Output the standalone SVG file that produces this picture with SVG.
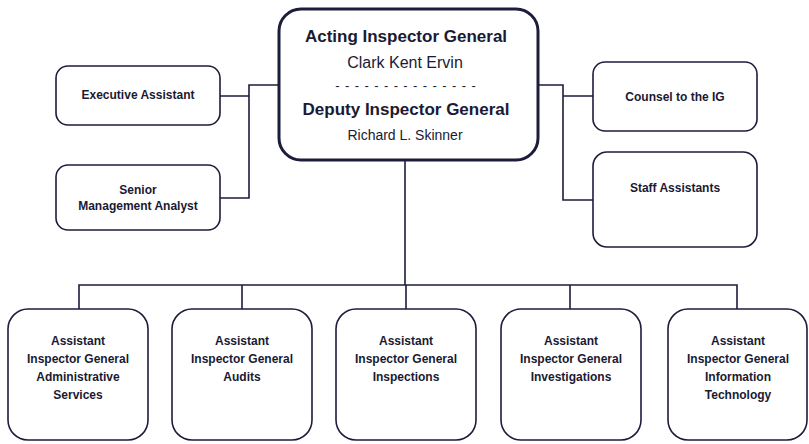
<svg xmlns="http://www.w3.org/2000/svg" width="809" height="444" viewBox="0 0 809 444">
<style>
.box{fill:#fff;stroke:#1c1c3c;stroke-width:1.6}
.main{fill:#fff;stroke:#1c1c3c;stroke-width:3}
.ln{fill:none;stroke:#1c1c3c;stroke-width:1.6}
text{font-family:"Liberation Sans",Arial,sans-serif;fill:#1a1a33;text-anchor:middle}
.b{font-weight:bold;font-size:12px}
.t{font-weight:bold;font-size:17px}
.n{font-size:16px}
.s{font-size:14px}
.d{font-size:13px;letter-spacing:0.9px}
</style>
<rect width="809" height="444" fill="#fff"/>
<g id="connectors">
<path class="ln" d="M278,85 H249 V198 H220 M249,96 H220"/>
<path class="ln" d="M538,85 H563 V200 H593 M563,96 H593"/>
<path class="ln" d="M405,160 V285 M79,309 V285 H737 V309 M242,285 V309 M406,285 V309 M570,285 V309"/>
</g>
<g id="ig">
<rect class="main" x="279" y="9" width="259" height="151" rx="22"/>
<text class="t" x="406" y="42">Acting Inspector General</text>
<text class="n" x="405" y="68">Clark Kent Ervin</text>
<text class="d" x="406" y="90">- - - - - - - - - - - - - - -</text>
<text class="t" x="406" y="115">Deputy Inspector General</text>
<text class="s" x="405" y="140">Richard L. Skinner</text>
</g>
<g id="exec">
<rect class="box" x="56" y="66" width="164" height="59" rx="12"/>
<text class="b" x="138" y="99">Executive Assistant</text>
</g>
<g id="sma">
<rect class="box" x="56" y="165" width="164" height="65" rx="12"/>
<text class="b" x="138" y="194">Senior</text>
<text class="b" x="138" y="210">Management Analyst</text>
</g>
<g id="counsel">
<rect class="box" x="593" y="62" width="164" height="69" rx="12"/>
<text class="b" x="675" y="101">Counsel to the IG</text>
</g>
<g id="staff">
<rect class="box" x="593" y="152" width="164" height="95" rx="14"/>
<text class="b" x="675" y="192">Staff Assistants</text>
</g>
<g id="admin">
<rect class="box" x="8" y="309" width="140" height="131" rx="20"/>
<text class="b" x="78" y="345">Assistant</text>
<text class="b" x="78" y="363">Inspector General</text>
<text class="b" x="78" y="381">Administrative</text>
<text class="b" x="78" y="399">Services</text>
</g>
<g id="audits">
<rect class="box" x="172" y="309" width="140" height="131" rx="20"/>
<text class="b" x="242" y="345">Assistant</text>
<text class="b" x="242" y="363">Inspector General</text>
<text class="b" x="242" y="381">Audits</text>
</g>
<g id="inspections">
<rect class="box" x="336" y="309" width="140" height="131" rx="20"/>
<text class="b" x="406" y="345">Assistant</text>
<text class="b" x="406" y="363">Inspector General</text>
<text class="b" x="406" y="381">Inspections</text>
</g>
<g id="investigations">
<rect class="box" x="501" y="309" width="140" height="131" rx="20"/>
<text class="b" x="571" y="345">Assistant</text>
<text class="b" x="571" y="363">Inspector General</text>
<text class="b" x="571" y="381">Investigations</text>
</g>
<g id="it">
<rect class="box" x="668" y="309" width="139" height="131" rx="20"/>
<text class="b" x="738" y="345">Assistant</text>
<text class="b" x="738" y="363">Inspector General</text>
<text class="b" x="738" y="381">Information</text>
<text class="b" x="738" y="399">Technology</text>
</g>
</svg>
